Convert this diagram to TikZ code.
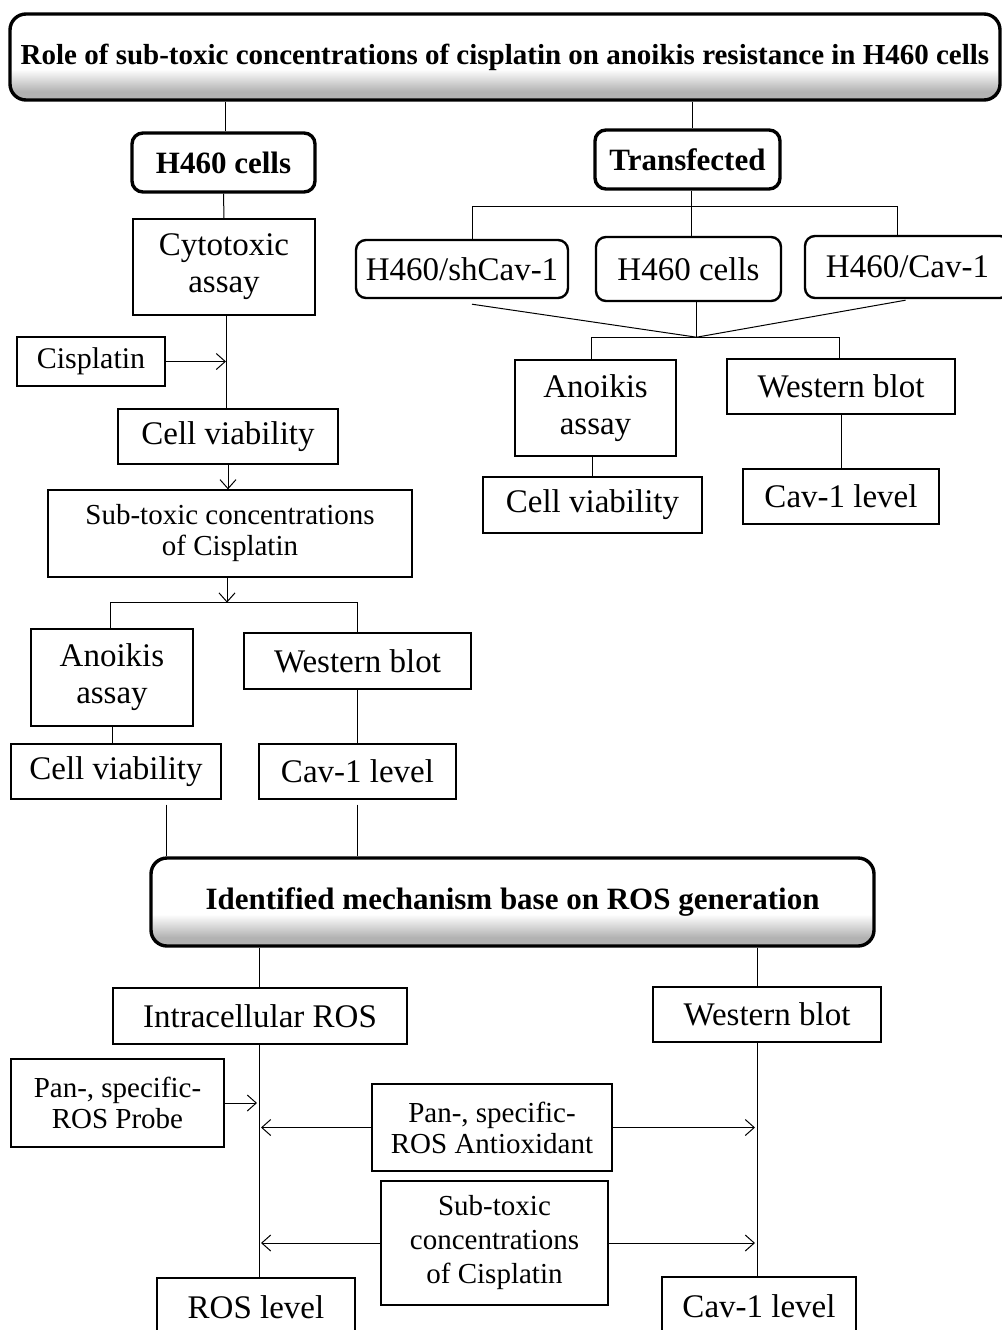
\documentclass[tikz,border=0pt]{standalone}
\usepackage{fontspec}
\setmainfont{Liberation Serif}
\usetikzlibrary{arrows.meta, positioning, calc}

\newcommand{\bigtxt}{\fontsize{33}{37}\selectfont}
\newcommand{\smalltxt}{\fontsize{29}{31}\selectfont}
\newcommand{\headtxt}{\fontsize{31}{35}\selectfont\bfseries}
\newcommand{\titletxt}{\fontsize{29}{33}\selectfont\bfseries}
\pgfdeclareverticalshading{bannershade}{100bp}{color(0bp)=(black!30); color(30bp)=(black!30); color(43bp)=(white); color(100bp)=(white)}

\begin{document}
\begin{tikzpicture}[
        x=1pt, y=-1pt,
        every node/.style={font=\bigtxt},
        box/.style={draw, line width=1.3pt, fill=white, align=center, inner sep=0pt},
        wh/.style 2 args={minimum width=#1pt, minimum height=#2pt},
        groupbox/.style={box, rounded corners=11pt, line width=3.4pt, font=\headtxt},
        cellbox/.style={box, rounded corners=10pt, line width=2.4pt},
        banner/.style={groupbox, rounded corners=16pt, shading=bannershade},
        link/.style={line width=1pt},
        arrowline/.style={link, -{Straight Barb[length=9pt, width=16pt]}}
    ]
        \useasboundingbox (0,0) rectangle (1001,1330);

        % heading and the two branches
        \node[banner, wh={990}{86}, font=\titletxt] (title) at (505,57) {Role of sub-toxic concentrations of cisplatin on anoikis resistance in H460 cells};
        \node[groupbox, wh={183}{59}] (h460) at (223.5,162.5) {H460 cells};
        \node[groupbox, wh={185}{59}] (trans) at (687.5,159.5) {Transfected};

        % left branch
        \node[box, wh={182}{96}] (cyto) at (224,267) {Cytotoxic\\assay};
        \node[box, wh={148}{49}] (cis) at (91,361.5) {\fontsize{30}{32}\selectfont Cisplatin};
        \node[box, wh={220}{55}] (viab1) at (228,436.5) {Cell viability};
        \node[box, wh={364}{87}, font=\smalltxt] (sub1) at (230,533.5) {Sub-toxic concentrations\\of Cisplatin};
        \node[box, wh={162}{97}] (anoi1) at (112,677.5) {Anoikis\\assay};
        \node[box, wh={227}{56}] (west1) at (357.5,661) {Western blot};
        \node[box, wh={210}{55}] (viab2) at (116,771.5) {Cell viability};
        \node[box, wh={197}{55}] (cav1) at (357.5,771.5) {Cav-1 level};

        % right branch
        \node[cellbox, wh={212}{58}] (shcav) at (462,269) {H460/shCav-1};
        \node[cellbox, wh={185}{64}] (h460b) at (688.5,269) {H460 cells};
        \node[cellbox, wh={205}{62}] (cavp) at (907.5,267) {H460/Cav-1};
        \node[box, wh={161}{96}] (anoi2) at (595.5,408) {Anoikis\\assay};
        \node[box, wh={228}{55}] (west2) at (841,386.5) {Western blot};
        \node[box, wh={219}{56}] (viab3) at (592.5,505) {Cell viability};
        \node[box, wh={196}{55}] (cav2) at (841,496.5) {Cav-1 level};

        % mechanism
        \node[banner, wh={723}{88}] (ident) at (512.5,902) {Identified mechanism base on ROS generation};
        \node[box, wh={294}{56}] (intra) at (260,1016) {Intracellular ROS};
        \node[box, wh={228}{55}] (west3) at (767,1014.5) {Western blot};
        \node[box, wh={213}{88}, font=\smalltxt] (probe) at (117.5,1103) {Pan-, specific-\\ROS Probe};
        \node[box, wh={240}{87}, font=\smalltxt] (antiox) at (492,1127.5) {Pan-, specific-\\ROS Antioxidant};
        \node[box, wh={227}{124}, font=\fontsize{29}{34}\selectfont] (sub2) at (494.5,1243) {Sub-toxic\\concentrations\\of Cisplatin};
        \node[box, wh={198}{58}] (roslev) at (256,1307) {ROS level};
        \node[box, wh={194}{58}] (cav3) at (759,1306) {Cav-1 level};

        \coordinate (fork1) at ($(sub1.south)+(-3,25)$);
        \coordinate (tbar) at ($(trans.south)+(4,16)$);
        \coordinate (merge) at ($(h460b.south)+(8,35)$);
        \coordinate (viabtap) at ($(viab2.south)+(50,0)$);
        \coordinate (cytotap) at ($(cyto.south)+(2,0)$);

        % top connectors
        \draw[link] ([xshift=2pt]h460.north |- title.south) -- ([xshift=2pt]h460.north);
        \draw[link] ([xshift=5pt]trans.north |- title.south) -- ([xshift=5pt]trans.north);
        \draw[link] (h460.south) -- (cyto.north);
        \draw[link] (cytotap) -- (cytotap |- viab1.north);
        \draw[arrowline] (cis.east) -- (cis.east -| cytotap);
        \draw[arrowline] (viab1.south) -- (viab1.south |- sub1.north);
        \draw[arrowline] (sub1.south -| fork1) -- (fork1);
        \draw[link] ([xshift=-2pt]anoi1.north) |- (fork1) -| (west1.north);
        \draw[link] (anoi1.south) -- (anoi1.south |- viab2.north);
        \draw[link] (west1.south) -- (cav1.north);
        \draw[link] ([yshift=-5pt]viabtap) -- (viabtap |- ident.north);
        \draw[link] ([yshift=-5pt]cav1.south) -- (cav1.south |- ident.north);

        % transfected connectors
        \draw[link] (trans.south -| tbar) -- (tbar) -- (tbar |- h460b.north);
        \draw[link] ([xshift=10pt]shcav.north) |- (tbar) -| ([xshift=-10pt]cavp.north);
        \draw[link] ([shift={(10pt,-5pt)}]shcav.south) -- (merge);
        \draw[link] ([shift={(-2pt,-1pt)}]cavp.south) -- (merge);
        \draw[link] (h460b.south -| merge) -- (merge);
        \draw[link] ([xshift=-4pt]anoi2.north) |- (merge) -| ([xshift=-2pt]west2.north);
        \draw[link] ([xshift=-3pt]anoi2.south) -- ([xshift=-3pt]anoi2.south |- viab3.north);
        \draw[link] (west2.south) -- (cav2.north);

        % mechanism connectors
        \draw[link] ([xshift=-1pt]intra.north |- ident.south) -- ([xshift=-1pt]intra.north);
        \draw[link] ([xshift=-2pt]cav3.north |- ident.south) -- ([xshift=-2pt]cav3.north |- west3.north);
        \draw[link] ([xshift=-2pt]cav3.north |- west3.south) -- ([xshift=-2pt]cav3.north);
        \draw[link] ([xshift=-1pt]intra.south) -- ([xshift=-1pt]intra.south |- roslev.north);
        \draw[arrowline] (probe.east) -- ([xshift=-3pt]probe.east -| intra.south);
        \draw[arrowline] (antiox.west) -- ([xshift=1pt]antiox.west -| intra.south);
        \draw[arrowline] (antiox.east) -- ([xshift=-4pt]antiox.east -| cav3.north);
        \draw[arrowline] (sub2.west) -- ([xshift=1pt]sub2.west -| intra.south);
        \draw[arrowline] (sub2.east) -- ([xshift=-4pt]sub2.east -| cav3.north);
    \end{tikzpicture}
\end{document}
